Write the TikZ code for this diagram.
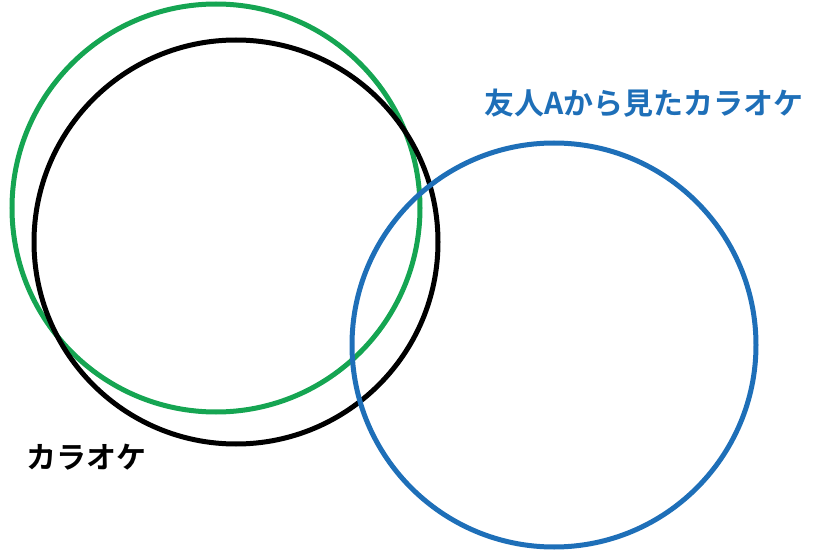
\documentclass[tikz,border=0pt]{standalone}
\usepackage{fontspec}
\newfontfamily\cjk{Noto Sans CJK JP Bold}
\definecolor{cblue}{HTML}{1E6FB8}
\definecolor{cgreen}{HTML}{15A552}
\begin{document}
\begin{tikzpicture}[x=1pt,y=-1pt,
  ring/.style={line width=5pt},
  lbl/.style={font=\cjk\fontsize{30}{35}\selectfont, inner sep=0pt}]
\useasboundingbox (0,0) rectangle (823,551);
\node[ring, draw=cgreen, circle, minimum size=408pt, inner sep=0pt] (green) at (216,208) {};
\node[ring, draw=black, circle, minimum size=404pt, inner sep=0pt] (black) at (236,242) {};
\node[ring, draw=cblue, circle, minimum size=404pt, inner sep=0pt] (blue) at (554,345) {};
\node[lbl, text=cblue, anchor=west] (lblue) at (484,103) {友人Aから見たカラオケ};
\node[lbl, anchor=west] (lblack) at (26,457) {カラオケ};
\end{tikzpicture}
\end{document}
